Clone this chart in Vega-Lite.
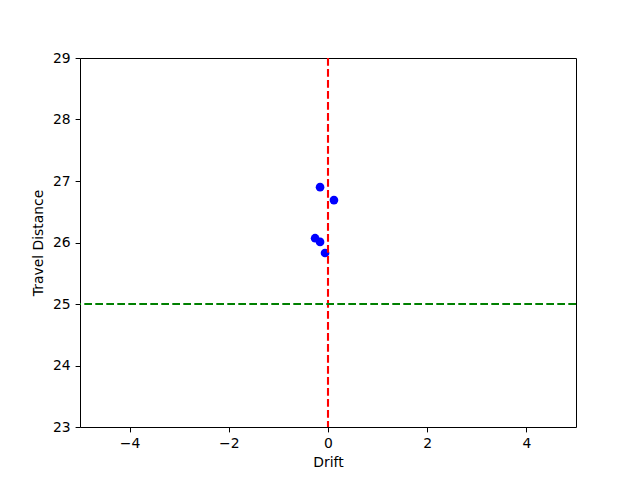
{
  "$schema": "https://vega.github.io/schema/vega-lite/v6.json",
  "width": 496,
  "height": 369,
  "autosize": {"type": "none"},
  "padding": {"left": 80, "top": 58, "right": 64, "bottom": 53},
  "background": "white",
  "config": {
    "font": "DejaVu Sans",
    "view": {"stroke": "black", "strokeWidth": 1},
    "axis": {
      "grid": false,
      "domain": false,
      "tickColor": "black",
      "tickSize": 4.9,
      "labelColor": "black",
      "labelFontSize": 13.9,
      "titleFontSize": 13.9,
      "titleFontWeight": "normal",
      "titleColor": "black",
      "labelFont": "DejaVu Sans",
      "titleFont": "DejaVu Sans"
    }
  },
  "datasets": {
    "pts": [
      {"drift": -0.16, "dist": 26.90},
      {"drift": 0.12, "dist": 26.69},
      {"drift": -0.26, "dist": 26.07},
      {"drift": -0.16, "dist": 26.01},
      {"drift": -0.06, "dist": 25.83}
    ],
    "vline": [{"x": 0}],
    "hline": [{"y": 25}]
  },
  "layer": [
    {
      "data": {"name": "pts"},
      "mark": {"type": "circle", "color": "blue", "opacity": 1, "size": 75},
      "encoding": {
        "x": {"field": "drift", "type": "quantitative", "scale": {"domain": [-5, 5], "nice": false, "zero": false},
              "axis": {"title": "Drift", "values": [-4, -2, 0, 2, 4], "format": "d", "labelPadding": 4.9, "titlePadding": 5, "labelFlush": false}},
        "y": {"field": "dist", "type": "quantitative", "scale": {"domain": [23, 29], "nice": false, "zero": false},
              "axis": {"title": "Travel Distance", "values": [23, 24, 25, 26, 27, 28, 29], "format": "d", "labelPadding": 4.9, "titlePadding": 7, "labelFlush": false}}
      }
    },
    {
      "data": {"name": "vline"},
      "mark": {"type": "rule", "color": "red", "strokeWidth": 2.1, "strokeDash": [7.7, 3.3]},
      "encoding": {"x": {"field": "x", "type": "quantitative"}}
    },
    {
      "data": {"name": "hline"},
      "mark": {"type": "rule", "color": "green", "strokeWidth": 2.1, "strokeDash": [7.7, 3.3]},
      "encoding": {"y": {"field": "y", "type": "quantitative"}}
    }
  ]
}
